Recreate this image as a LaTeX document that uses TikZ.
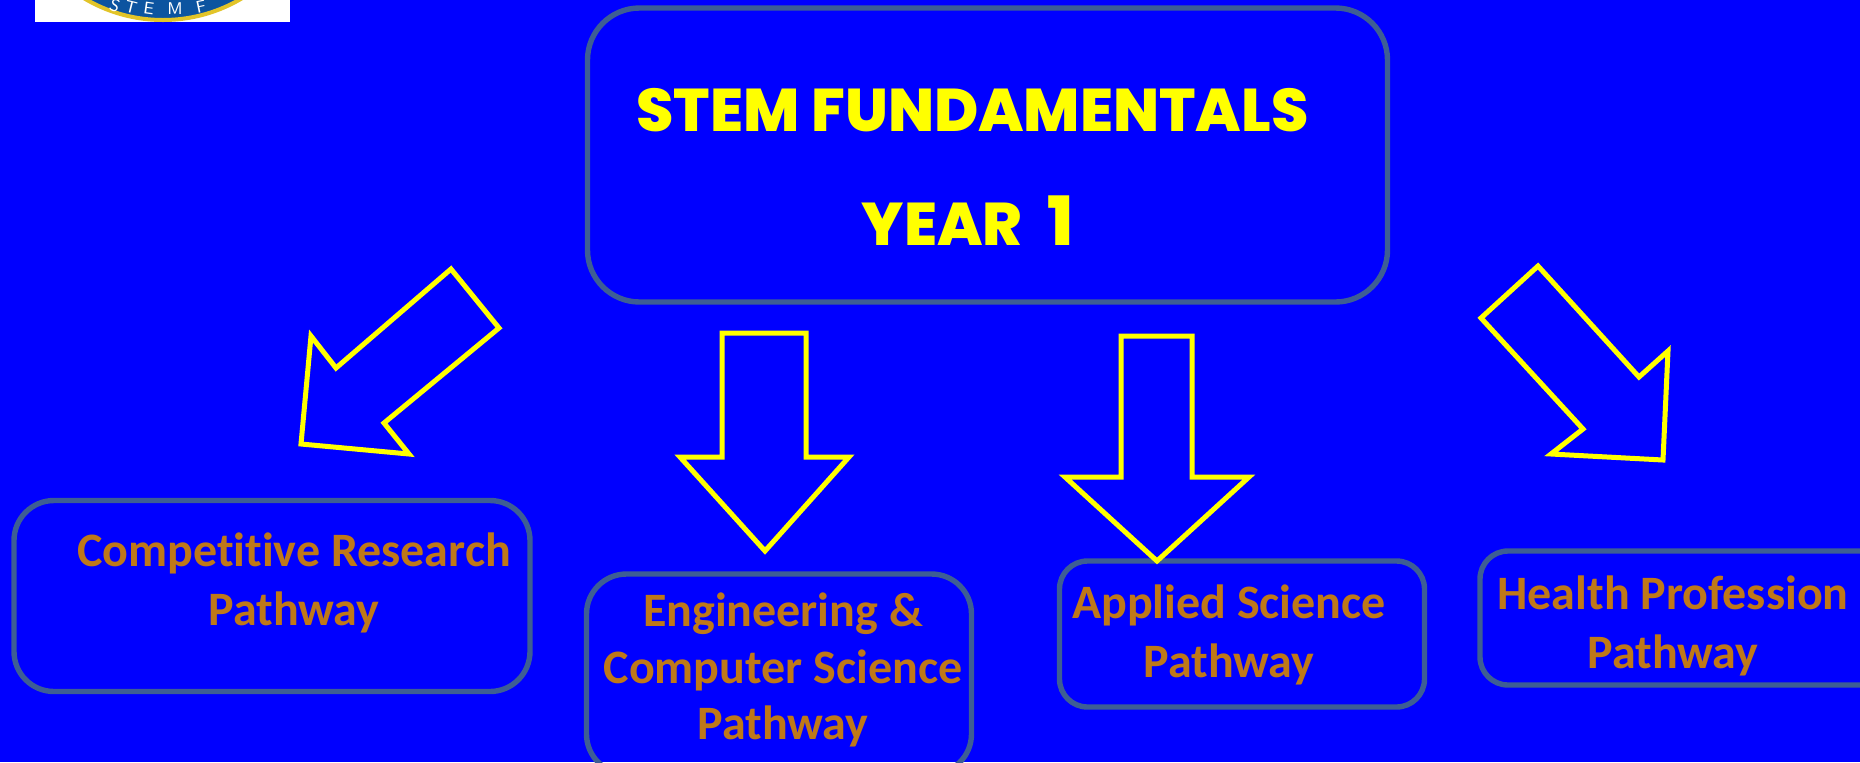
\documentclass[tikz,border=0pt]{standalone}
\usepackage{fontspec}
\setmainfont{Carlito}[Ligatures=NoCommon,RawFeature={-liga;-clig}]
\newfontfamily\titlefont{Poppins ExtraBold}
\definecolor{bgblue}{RGB}{0,0,255}
\definecolor{boxline}{RGB}{62,94,148}
\definecolor{pathtext}{RGB}{191,120,24}
\definecolor{arrowyellow}{RGB}{255,255,0}
\definecolor{logoblue}{RGB}{12,84,160}
\definecolor{logogold}{RGB}{226,196,40}
\tikzset{
  pathbox/.style={draw=boxline,line width=2.7pt,fill=none,inner sep=0pt,outer sep=0pt},
  pathlabel/.style={text=pathtext,font=\bfseries\fontsize{24}{29.3}\selectfont,align=center,inner sep=0pt},
  titlelabel/.style={text=arrowyellow,font=\titlefont\fontsize{30.15}{36}\selectfont,inner sep=0pt},
  blockarrow/.style={draw=arrowyellow,line width=2.5pt,line join=miter,fill=none},
  logoletter/.style={text=white,font=\fontsize{8.5}{10}\selectfont\sffamily,inner sep=0pt},
}
\begin{document}
\begin{tikzpicture}[x=0.5pt,y=-0.5pt]
\useasboundingbox (0,0) rectangle (1860,762);
\clip (0,0) rectangle (1860,762);
\fill[bgblue] (0,0) rectangle (1860,762);
% logo fragment
\fill[white] (35,0) rectangle (290,22);
\begin{scope}
\clip (35,0) rectangle (290,22);
\draw[fill=logoblue,draw=logogold,line width=2pt] (163,-134) circle[radius=154];
\end{scope}
\node[logoletter,rotate=-20] (ls) at (115,6) {S};
\node[logoletter,rotate=-14] (lt) at (131,7) {T};
\node[logoletter,rotate=-8] (le) at (149,8.5) {E};
\node[logoletter] (lm) at (175,8.5) {M};
\node[logoletter,rotate=12] (lf) at (201,7) {F};
% boxes
\node[pathbox,rounded corners=26pt,minimum width=800pt*0.5,minimum height=294pt*0.5] (main) at (987.5,155) {};
\node[pathbox,rounded corners=20pt,minimum width=516pt*0.5,minimum height=191pt*0.5] (b1) at (272,596) {};
\node[pathbox,rounded corners=20pt,minimum width=385pt*0.5,minimum height=200pt*0.5] (b2) at (779,674) {};
\node[pathbox,rounded corners=14pt,minimum width=365pt*0.5,minimum height=146pt*0.5] (b3) at (1242,634) {};
\node[pathbox,rounded corners=14pt,minimum width=420pt*0.5,minimum height=134pt*0.5] (b4) at (1690,618) {};
% titles
\node[titlelabel] (t1) at (972.5,110) {STEM FUNDAMENTALS};
\node[titlelabel] (t2) at (968,221) {YEAR\hspace{12.5pt}{\fontsize{34}{36}\selectfont 1}};
% labels
\node[pathlabel] (l1) at (294,583) {Competitive Research\\Pathway};
\node[pathlabel,font=\bfseries\fontsize{24}{28.4}\selectfont] (l2) at (783,670) {Engineering \&\\Computer Science\\Pathway};
\node[pathlabel] (l3) at (1229,635) {Applied Science\\Pathway};
\node[pathlabel] (l4) at (1673,626) {Health Profession\\Pathway};
% block arrows
\draw[blockarrow] (451,269)--(499,328)--(384,423)--(409,454)--(301,444)--(311,336)--(336,368)--cycle;
\draw[blockarrow] (722,333)--(806,333)--(806,457)--(849,457)--(765,551)--(680,457)--(722,457)--cycle;
\draw[blockarrow] (1121,336)--(1192,336)--(1192,477)--(1249,477)--(1157,561)--(1065,477)--(1121,477)--cycle;
\draw[blockarrow] (1538,266)--(1639,377)--(1668,351)--(1663,460)--(1551,454)--(1583,429)--(1481,318)--cycle;
\end{tikzpicture}
\end{document}
